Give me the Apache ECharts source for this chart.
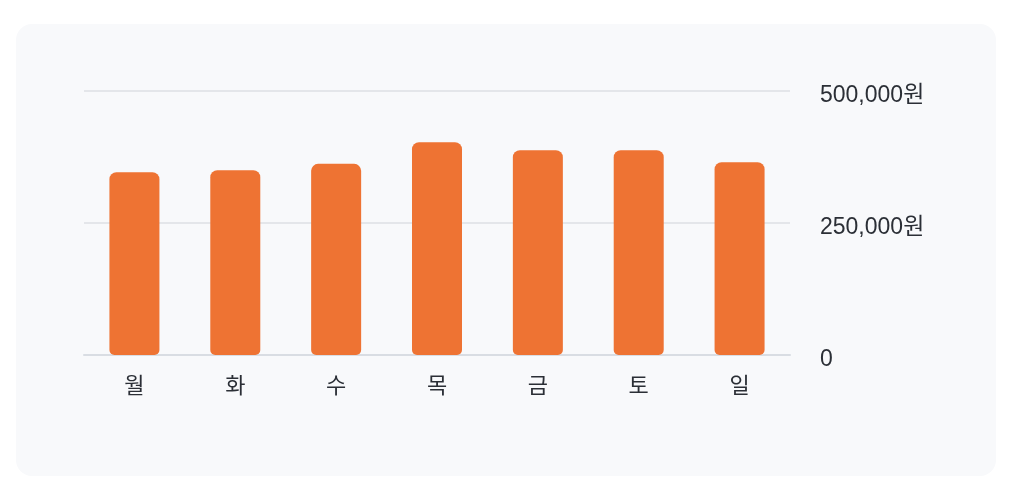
<!DOCTYPE html>
<html>
<head>
<meta charset="utf-8">
<script src="https://cdn.jsdelivr.net/npm/echarts@6/dist/echarts.min.js"></script>
<style>
  html, body { margin: 0; padding: 0; background: #ffffff; width: 1012px; height: 496px; overflow: hidden; }
  #card { position: absolute; left: 16px; top: 24px; width: 980px; height: 452px; border-radius: 16px; background: #f8f9fb; overflow: hidden; }
  #chart { width: 980px; height: 452px; }
</style>
</head>
<body>
<div id="card"><div id="chart"></div></div>
<script>
const categories = ['월', '화', '수', '목', '금', '토', '일'];
const sales = [346000, 350000, 362000, 403000, 388000, 388000, 365000];
const yTicks = [0, 250000, 500000];

const fontFamily = '"Liberation Sans", "Noto Sans CJK KR", sans-serif';
const chart = echarts.init(document.getElementById('chart'), null, { renderer: 'canvas' });
chart.setOption({
  backgroundColor: 'transparent',
  animation: false,
  grid: { left: 68, right: 206, top: 67, bottom: 121, containLabel: false },
  xAxis: {
    type: 'category',
    data: categories,
    axisLine: { show: true, lineStyle: { color: '#d9dde3', width: 2 } },
    axisTick: { show: false },
    axisLabel: { color: '#2b2f36', fontSize: 22, margin: 21, fontFamily: fontFamily }
  },
  yAxis: {
    type: 'value',
    position: 'right',
    min: yTicks[0],
    max: yTicks[yTicks.length - 1],
    interval: yTicks[1] - yTicks[0],
    axisLine: { show: false },
    axisTick: { show: false },
    splitLine: { lineStyle: { color: '#e4e6ea', width: 2 } },
    axisLabel: {
      color: '#2b2f36', fontSize: 23, margin: 30, fontFamily: fontFamily,
      formatter: function (v) { return '{v|' + (v === 0 ? '0' : v.toLocaleString('en-US') + '원') + '}'; },
      rich: {
        v: { color: '#2b2f36', fontSize: 23, fontFamily: fontFamily, padding: [9, 0, 0, 0] }
      }
    }
  },
  series: [{
    type: 'bar',
    data: sales,
    barWidth: 50,
    itemStyle: { color: '#ee7333', borderRadius: [7, 7, 5, 5] }
  }]
});
</script>
</body>
</html>
